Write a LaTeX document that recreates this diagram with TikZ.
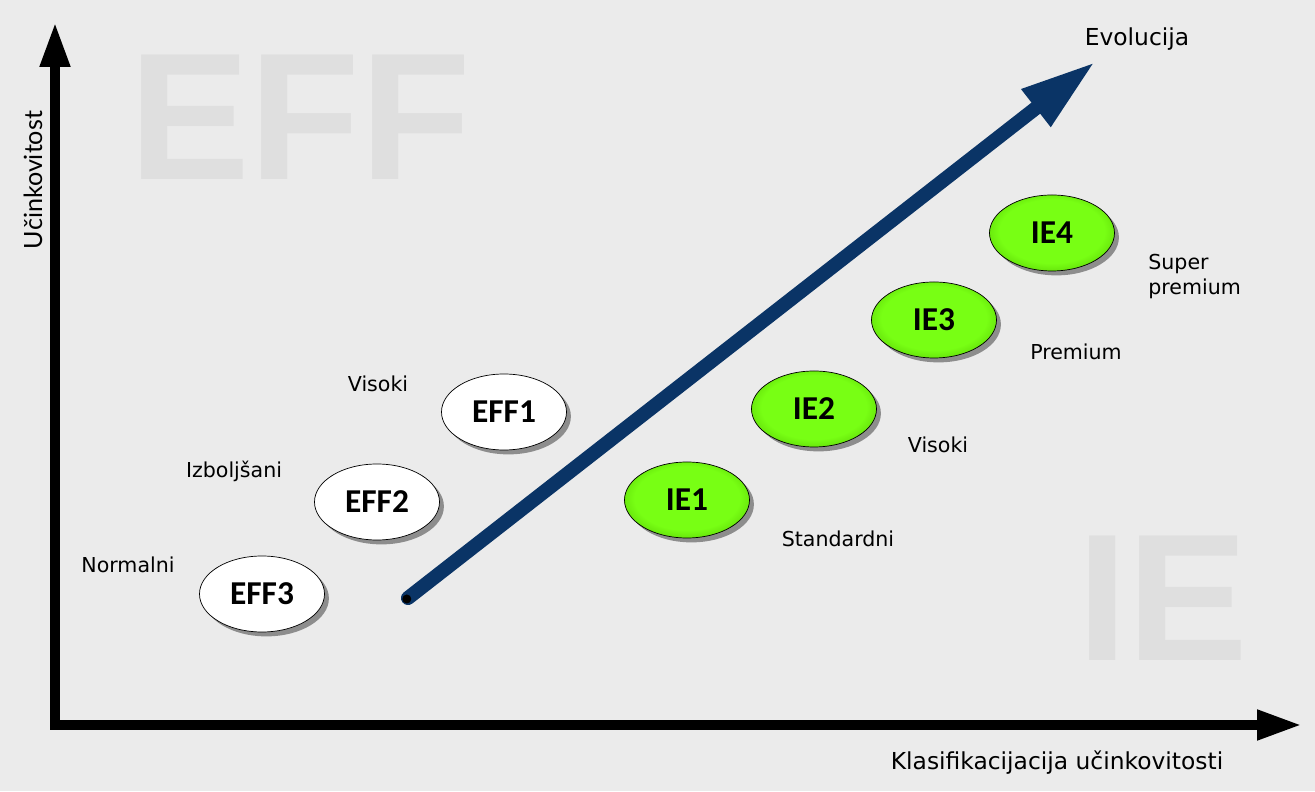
\documentclass[tikz,border=0pt]{standalone}
\usepackage{fontspec}
\setmainfont{DejaVu Sans}
\newfontfamily\latofont{Lato}
\newfontfamily\classfont{Carlito}
\newfontfamily\markfont{Liberation Sans}
\usetikzlibrary{shapes.geometric,shadows,arrows.meta,calc}
\definecolor{bggray}{RGB}{235,235,235}
\definecolor{markgray}{RGB}{223,223,223}
\definecolor{evonavy}{RGB}{10,52,102}
\definecolor{ielight}{RGB}{120,255,20}
\definecolor{iemid}{RGB}{100,225,10}
\definecolor{iedark}{RGB}{45,125,0}
\pgfdeclareradialshading{iegreen}{\pgfpoint{0bp}{2bp}}{color(0bp)=(ielight); color(21bp)=(ielight); color(27bp)=(iemid); color(31bp)=(iedark); color(50bp)=(iedark)}

\begin{document}
\begin{tikzpicture}[scale=2,
  cls/.style={ellipse, draw=black, thin, minimum width=2.5cm, minimum height=1.52cm,
    inner sep=0pt, font=\classfont\bfseries\fontsize{19}{19}\selectfont,
    drop shadow={shadow xshift=2.5pt, shadow yshift=-2.5pt, opacity=.4, fill=black}},
  eff/.style={cls, fill=white},
  ie/.style={cls, shade, shading=iegreen},
  tag/.style={anchor=base, inner sep=0pt, font=\fontsize{11.7}{14.2}\selectfont},
  axislabel/.style={inner sep=0pt, font=\fontsize{13.3}{16}\selectfont},
  axis/.style={line width=5.7pt, line cap=rect, -{Triangle[length=25.6pt, width=16pt]}},
  watermark/.style={inner sep=0pt, text=markgray, font=\markfont\bfseries\fontsize{103}{103}\selectfont}
]
  % background
  \fill[bggray] (0,0) rectangle (13.15,7.91);

  % faded class names
  \node[watermark] (effmark) at (3.00,6.74) {EFF};
  \node[watermark] (iemark) at (11.63,1.93) {IE};

  % axes
  \coordinate (origin) at (0.55,0.66);
  \coordinate (ytip) at (0.55,7.69);
  \coordinate (xtip) at (13.02,0.66);
  \draw[axis] (origin) -- (ytip);
  \draw[axis] (origin) -- (xtip);
  \node[axislabel, rotate=90, font=\latofont\fontsize{14.3}{16}\selectfont] (ylabel) at (0.33,6.11) {Učinkovitost};
  \node[axislabel, anchor=base] (xlabel) at (10.57,0.21) {Klasifikacijacija učinkovitosti};

  % evolution arrow
  \coordinate (evostart) at (4.08,1.93);
  \coordinate (evotip) at (10.95,7.29);
  \draw[evonavy, line width=8pt, line cap=round, -{Triangle[length=42.7pt, width=25pt]}] (evostart) -- (evotip);
  \fill[black] ($(evostart)+(-0.012,-0.01)$) circle (0.045);
  \node[axislabel, anchor=base] (evolabel) at (11.37,7.45) {Evolucija};

  % old EFF classes
  \node[eff] (eff3) at (2.62,1.97) {EFF3};
  \node[eff] (eff2) at (3.77,2.89) {EFF2};
  \node[eff] (eff1) at (5.04,3.79) {EFF1};
  \node[tag] (normal) at (1.28,2.18) {Normalni};
  \node[tag] (improved) at (2.34,3.13) {Izboljšani};
  \node[tag] (highold) at (3.78,3.99) {Visoki};

  % new IE classes
  \foreach \name/\x/\y in {ie1/6.87/2.91, ie2/8.14/3.82, ie3/9.34/4.71, ie4/10.52/5.58} {
    \node[ie] (\name) at (\x,\y) {\MakeUppercase{\name}};
  }
  \node[tag] (standard) at (8.38,2.44) {Standardni};
  \node[tag] (highnew) at (9.38,3.38) {Visoki};
  \node[tag] (premium) at (10.76,4.31) {Premium};
  \node[tag, anchor=north west, align=left] (superprem) at (11.48,5.37) {Super\\premium};
\end{tikzpicture}
\end{document}
